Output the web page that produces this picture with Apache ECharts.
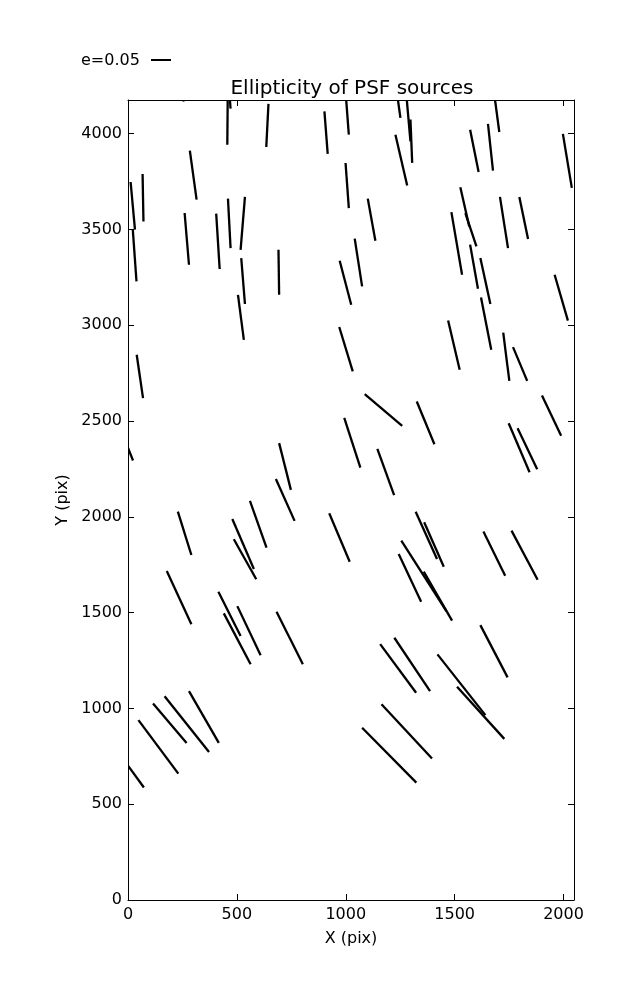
<!DOCTYPE html>
<html>
<head>
<meta charset="utf-8">
<script src="https://cdn.jsdelivr.net/npm/echarts@6/dist/echarts.min.js"></script>
<style>
html,body{margin:0;padding:0;background:#fff;}
#chart{width:637px;height:1000px;}
</style>
</head>
<body>
<div id="chart"></div>
<script>
// Whisker segments (start / end points in pixel-of-detector units)
var xStart = [246,458,466,645,902,1000,1236,1278,1297,1682,1228,1571,1653,1997,1101,1526,1549,1485,1708,1797,1571,1618,1959,1621,999,1041,284,12,22,67,260,405,459,537,520,505,691,972,40,970,-24,694,679,993,1470,1723,1768,1087,1326,1901,1145,1748,1789,229,479,486,560,924,178,415,440,502,682,1321,1360,1255,1358,1243,1632,1761,1618,1158,1223,1421,1511,168,280,115,48,-33,1164,1075];
var yStart = [4220,4205,4205,4156,4117,4205,4205,4205,4074,4205,3995,4021,4051,3999,3661,3720,3586,3591,3670,3670,3421,3351,3264,3145,3847,3452,3912,3748,3499,3790,3586,3583,3661,3670,3351,3159,3394,3337,2846,2991,2428,2385,2198,2517,3025,2962,2886,2641,2602,2633,2355,2489,2463,2027,1989,1883,2083,2019,1717,1609,1496,1534,1505,2027,1972,1876,1714,1806,1923,1928,1435,1336,1369,1282,1113,1064,1090,1026,939,753,1022,899];
var xEnd = [256,456,471,635,917,1014,1251,1297,1305,1705,1282,1610,1676,2038,1136,1567,1600,1534,1745,1837,1607,1664,2020,1668,1014,1075,315,32,39,71,280,421,471,517,537,532,694,1025,69,1032,23,748,765,1067,1523,1751,1833,1259,1407,1989,1222,1844,1879,291,578,589,636,1018,291,517,563,609,803,1419,1450,1462,1488,1346,1732,1881,1743,1323,1387,1641,1728,372,417,269,231,73,1396,1324];
var yEnd = [4168,3943,4131,3931,3895,3995,4083,3960,3848,4009,3730,3800,3807,3717,3441,3516,3412,3264,3403,3450,3191,3111,3024,2872,3612,3203,3656,3499,3229,3542,3316,3294,3403,3394,3111,2924,3159,3107,2620,2759,2294,2141,1979,2257,2768,2710,2710,2475,2379,2423,2114,2233,2249,1801,1728,1674,1839,1766,1439,1378,1231,1278,1231,1780,1740,1508,1458,1557,1693,1672,1162,1082,1090,965,841,773,820,820,660,587,739,613];

var xTicks = [0, 500, 1000, 1500, 2000];
var yTicks = [0, 500, 1000, 1500, 2000, 2500, 3000, 3500, 4000];
var xRange = [0, 2048];
var yRange = [0, 4176];

var titleText = 'Ellipticity of PSF sources';
var xName = 'X (pix)';
var yName = 'Y (pix)';
var keyLabel = 'e=0.05';

var FONT = 'DejaVu Sans';

var segData = xStart.map(function (v, i) { return [v, yStart[i], xEnd[i], yEnd[i]]; });

function tickFmt(ticks) {
  return function (v) { return ticks.indexOf(v) >= 0 ? String(v) : ''; };
}

function axisBase(isX, pos, showLabels) {
  var range = isX ? xRange : yRange;
  var ticks = isX ? xTicks : yTicks;
  return {
    type: 'value',
    position: pos,
    min: range[0],
    max: range[1],
    interval: 500,
    axisLine: { show: true, onZero: false, lineStyle: { color: '#000', width: 1 } },
    axisTick: { show: true, inside: true, length: 6, lineStyle: { color: '#000', width: 1 } },
    axisLabel: {
      show: showLabels,
      color: '#000',
      fontFamily: FONT,
      fontSize: 16,
      margin: isX ? 7 : 6,
      showMaxLabel: false,
      formatter: tickFmt(ticks)
    },
    splitLine: { show: false }
  };
}

var xBottom = axisBase(true, 'bottom', true);
xBottom.name = xName;
xBottom.nameLocation = 'middle';
xBottom.nameGap = 31;
xBottom.nameTextStyle = { color: '#000', fontFamily: FONT, fontSize: 16 };

var yLeft = axisBase(false, 'left', true);
yLeft.name = yName;
yLeft.nameLocation = 'middle';
yLeft.nameGap = 56;
yLeft.nameTextStyle = { color: '#000', fontFamily: FONT, fontSize: 16 };

var chart = echarts.init(document.getElementById('chart'), null, { renderer: 'canvas', width: 637, height: 1000 });

chart.setOption({
  animation: false,
  backgroundColor: '#ffffff',
  title: {
    text: titleText,
    left: 347,
    top: 74,
    textAlign: 'center',
    textStyle: { color: '#000', fontFamily: FONT, fontSize: 20, fontWeight: 'normal' }
  },
  grid: { left: 128, top: 100, width: 446, height: 800, containLabel: false },
  xAxis: [xBottom, axisBase(true, 'top', false)],
  yAxis: [yLeft, axisBase(false, 'right', false)],
  graphic: [
    { type: 'text', x: 81, y: 61, style: { text: keyLabel, fill: '#000', font: '16px "DejaVu Sans"', verticalAlign: 'middle', align: 'left' } },
    { type: 'line', shape: { x1: 151, y1: 60, x2: 171, y2: 60 }, style: { stroke: '#000', lineWidth: 2 } }
  ],
  series: [{
    type: 'custom',
    coordinateSystem: 'cartesian2d',
    xAxisIndex: 0,
    yAxisIndex: 0,
    clip: true,
    data: segData,
    encode: { x: [0, 2], y: [1, 3] },
    renderItem: function (params, api) {
      var p1 = api.coord([api.value(0), api.value(1)]);
      var p2 = api.coord([api.value(2), api.value(3)]);
      return {
        type: 'line',
        shape: { x1: p1[0], y1: p1[1], x2: p2[0], y2: p2[1] },
        style: { stroke: '#000', lineWidth: 2.3, lineCap: 'butt' }
      };
    }
  }]
});
</script>
</body>
</html>
